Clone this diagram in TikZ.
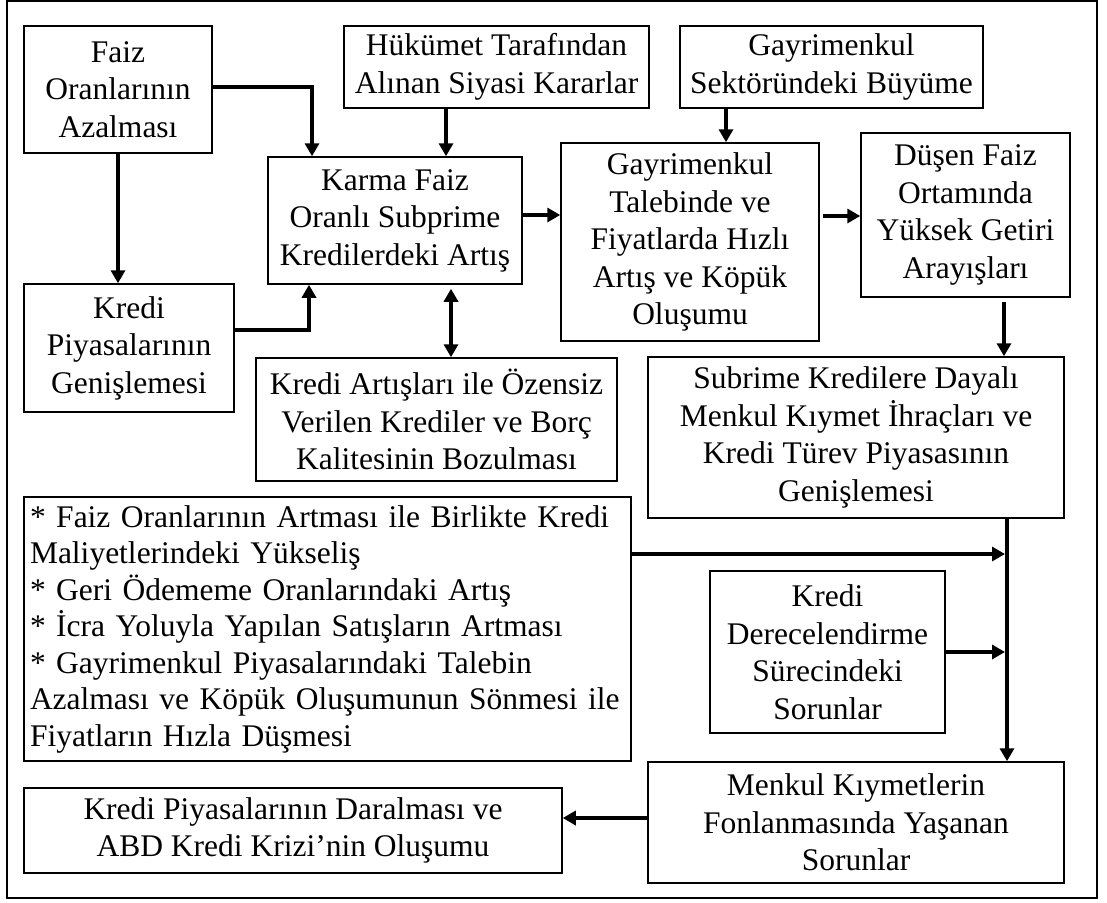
\documentclass[tikz,border=0pt]{standalone}
\usepackage{fontspec}
\setmainfont{Liberation Serif}
\usetikzlibrary{arrows.meta}
\begin{document}
\begin{tikzpicture}[x=1pt,y=-1pt,
  box/.style={draw, line width=1.5pt, inner sep=0pt, align=center,
    font=\fontsize{31.5}{37.5}\selectfont},
  listbox/.style={box, align=left, font=\fontsize{31.5}{36.5}\selectfont},
  arr/.style={line width=4pt, -{Triangle[length=13pt,width=14pt]}},
  darr/.style={line width=4pt, {Triangle[length=13pt,width=14pt]}-{Triangle[length=13pt,width=14pt]}},
]
\useasboundingbox (0,0) rectangle (1107,902);
% outer frame
\draw[line width=1.5pt] (7,1) rectangle (1097,898);

% boxes
\node[box, minimum width=188, minimum height=127] (faiz) at (118,89.5)
  {Faiz\\Oranlarının\\Azalması};
\node[box, minimum width=305, minimum height=82] (huk) at (496.5,67)
  {Hükümet Tarafından\\Alınan Siyasi Kararlar};
\node[box, minimum width=303, minimum height=82] (sek) at (831.5,67)
  {Gayrimenkul\\Sektöründeki Büyüme};
\node[box, minimum width=254, minimum height=127] (karma) at (395,220.5)
  {Karma Faiz\\Oranlı Subprime\\Kredilerdeki Artış};
\node[box, minimum width=258, minimum height=198] (talep) at (690,242)
  {Gayrimenkul\\Talebinde ve\\Fiyatlarda Hızlı\\Artış ve Köpük\\Oluşumu};
\node[box, minimum width=209, minimum height=164] (dusen) at (965.5,215)
  {Düşen Faiz\\Ortamında\\Yüksek Getiri\\Arayışları};
\node[box, minimum width=210, minimum height=128] (kpiy) at (129,348)
  {Kredi\\Piyasalarının\\Genişlemesi};
\node[box, minimum width=361, minimum height=123] (kart) at (436.5,419.5)
  {Kredi Artışları ile Özensiz\\Verilen Krediler ve Borç\\Kalitesinin Bozulması};
\node[box, minimum width=416, minimum height=161] (subr) at (856,437.5)
  {Subrime Kredilere Dayalı\\Menkul Kıymet İhraçları ve\\Kredi Türev Piyasasının\\Genişlemesi};
\node[listbox, minimum width=607, minimum height=264, text width=595] (bull) at (327.5,629)
  {{*} Faiz Oranlarının Artması ile Birlikte Kredi\\
   Maliyetlerindeki Yükseliş\\
   {*} Geri Ödememe Oranlarındaki Artış\\
   {*} İcra Yoluyla Yapılan Satışların Artması\\
   {*} Gayrimenkul Piyasalarındaki Talebin\\
   Azalması ve Köpük Oluşumunun Sönmesi ile\\
   Fiyatların Hızla Düşmesi};
\node[box, minimum width=235, minimum height=162] (dere) at (827.5,652)
  {Kredi\\Derecelendirme\\Sürecindeki\\Sorunlar};
\node[box, minimum width=416, minimum height=121] (menk) at (856,822.5)
  {Menkul Kıymetlerin\\Fonlanmasında Yaşanan\\Sorunlar};
\node[box, minimum width=538, minimum height=85] (daral) at (293,830.5)
  {Kredi Piyasalarının Daralması ve\\ABD Kredi Krizi’nin Oluşumu};

% points where side arrows meet the vertical trunk
\coordinate (tb) at (1005,554);
\coordinate (td) at (1005,652);

% connectors
\draw[arr] (faiz.east |- 0,87) -| (312,0 |- karma.north);
\draw[arr] (faiz.south) -- (faiz.south |- kpiy.north);
\draw[arr] (446,0 |- huk.south) -- (446,0 |- karma.north);
\draw[arr] (kpiy.east |- 0,330) -| (309,0 |- karma.south);
\draw[darr, shorten <=4pt] (451,0 |- karma.south) -- (451,0 |- kart.north);
\draw[arr] (karma.east |- 0,215) -- (talep.west |- 0,215);
\draw[arr] (726,0 |- sek.south) -- (726,0 |- talep.north);
\draw[arr, shorten <=3pt] (talep.east |- 0,216) -- (dusen.west |- 0,216);
\draw[arr, shorten <=4pt] (1004,0 |- dusen.south) -- (1004,0 |- subr.north);
\draw[arr] (1007,0 |- subr.south) -- (1007,0 |- menk.north);
\draw[arr] (bull.east |- tb) -- (tb);
\draw[arr] (dere.east |- td) -- (td);
\draw[arr] (menk.west |- 0,818) -- (daral.east |- 0,818);
\end{tikzpicture}
\end{document}
